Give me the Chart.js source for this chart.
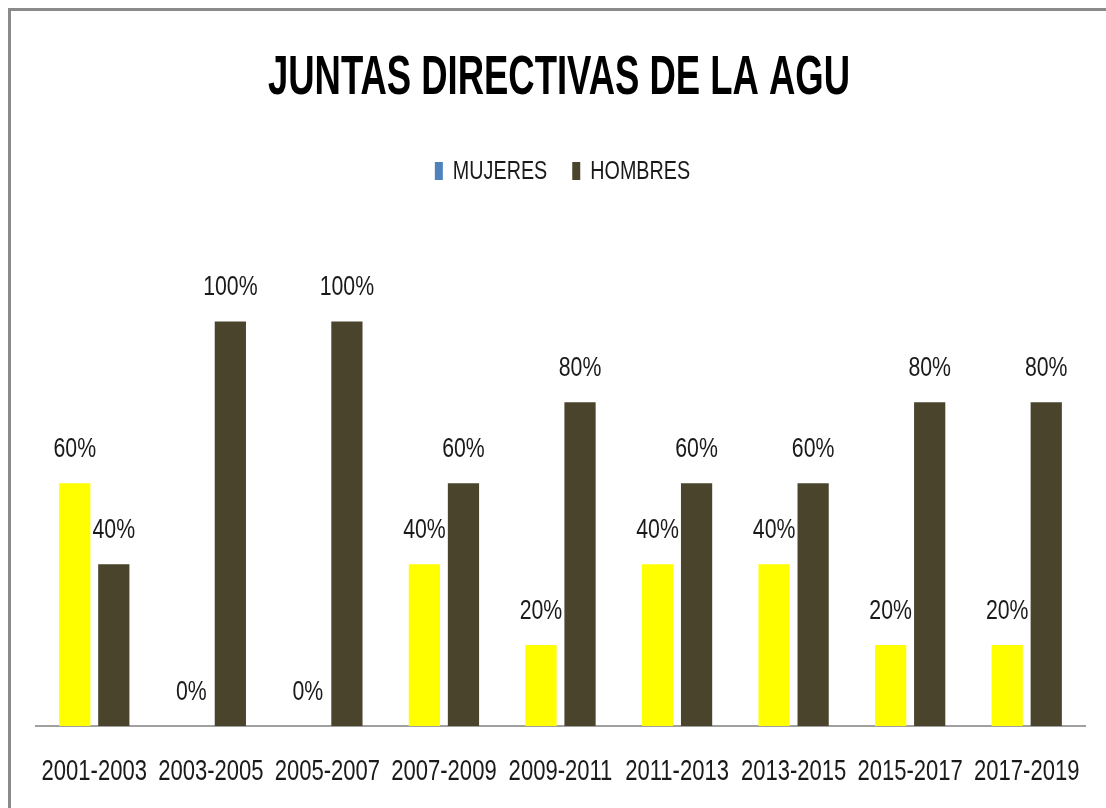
<!DOCTYPE html>
<html>
<head>
<meta charset="utf-8">
<script src="https://cdn.jsdelivr.net/npm/chart.js@4.4.1/dist/chart.umd.min.js"></script>
<style>
  html, body { margin: 0; padding: 0; background: #fff; }
  #wrap { position: relative; width: 1106px; height: 808px; overflow: hidden; }
  #frame { position: absolute; left: 8px; top: 8px; width: 1110px; height: 820px; border: 3px solid #8a8a8a; box-sizing: border-box; }
  #chart { position: absolute; left: 0; top: 0; }
</style>
</head>
<body>
<div id="wrap">
  <div id="frame"></div>
  <canvas id="chart" width="1106" height="808"></canvas>
</div>
<script>
const titleText = 'JUNTAS DIRECTIVAS DE LA AGU';
const periods = ['2001-2003', '2003-2005', '2005-2007', '2007-2009', '2009-2011', '2011-2013', '2013-2015', '2015-2017', '2017-2019'];
const mujeres = [60, 0, 0, 40, 20, 40, 40, 20, 20];
const hombres = [40, 100, 100, 60, 80, 60, 60, 80, 80];
const seriesNames = ['MUJERES', 'HOMBRES'];
const barColors = ['#ffff00', '#4a442d'];
const legendColors = ['#4f81bd', '#4a442d'];

const fontFam = '"Liberation Sans", Arial, sans-serif';
const squeeze = 0.76;   // el original usa una letra estrecha tipo Calibri
const textColor = '#1a1a1a';

// texto estrechado horizontalmente
function narrowText(ctx, text, x, y, font, align) {
    ctx.save();
    ctx.font = font;
    ctx.textAlign = align || 'center';
    ctx.textBaseline = 'middle';
    ctx.translate(x, y);
    ctx.scale(squeeze, 1);
    ctx.fillText(text, 0, 0);
    ctx.restore();
}

const textPlugin = {
    id: 'narrowTexts',
    afterDraw(chart) {
        const ctx = chart.ctx;
        const area = chart.chartArea;
        const mid = (area.left + area.right) / 2;

        // título
        ctx.save();
        ctx.fillStyle = '#000';
        ctx.font = 'bold 56px ' + fontFam;
        const tw = ctx.measureText(titleText).width;
        ctx.translate(559, 79);
        ctx.scale(582 / tw, 1);
        ctx.textAlign = 'center';
        ctx.textBaseline = 'middle';
        ctx.fillText(titleText, 0, 0);
        ctx.restore();

        // leyenda
        ctx.save();
        const lfont = '26px ' + fontFam;
        ctx.font = lfont;
        const widths = seriesNames.map(n => ctx.measureText(n).width * squeeze);
        const box = 8, gap = 10, between = 25;
        const total = widths.reduce((s, w) => s + box + gap + w, 0) + between;
        let x = mid + 2 - total / 2;
        seriesNames.forEach((name, i) => {
            ctx.fillStyle = legendColors[i];
            ctx.fillRect(x, 162, box, 18);
            ctx.fillStyle = textColor;
            narrowText(ctx, name, x + box + gap, 172, lfont, 'left');
            x += box + gap + widths[i] + between;
        });
        ctx.restore();

        // etiquetas del eje x
        ctx.save();
        ctx.fillStyle = textColor;
        const xs = chart.scales.x;
        periods.forEach((p, i) => {
            narrowText(ctx, p, xs.getPixelForTick(i), 772, '29px ' + fontFam);
        });
        ctx.restore();
    },
    afterDatasetsDraw(chart) {
        // porcentajes encima de cada barra
        const ctx = chart.ctx;
        ctx.save();
        ctx.fillStyle = textColor;
        chart.data.datasets.forEach((ds, i) => {
            chart.getDatasetMeta(i).data.forEach((bar, j) => {
                narrowText(ctx, ds.data[j] + '%', bar.x, bar.y - 34, '28px ' + fontFam);
            });
        });
        ctx.restore();
    }
};

new Chart(document.getElementById('chart'), {
    type: 'bar',
    data: {
        labels: periods,
        datasets: [
            { label: seriesNames[0], data: mujeres, backgroundColor: barColors[0] },
            { label: seriesNames[1], data: hombres, backgroundColor: barColors[1] }
        ]
    },
    options: {
        responsive: false,
        animation: false,
        layout: { padding: { left: 36, right: 21, top: 200, bottom: 74 } },
        datasets: { bar: { categoryPercentage: 0.67, barPercentage: 0.8 } },
        plugins: {
            title: { display: false },
            legend: { display: false },
            tooltip: { enabled: false }
        },
        scales: {
            x: {
                grid: { display: false },
                border: { color: '#a0a0a0', width: 2 },
                ticks: { display: false }
            },
            y: {
                display: false,
                min: 0,
                max: 130
            }
        }
    },
    plugins: [textPlugin]
});
</script>
</body>
</html>
